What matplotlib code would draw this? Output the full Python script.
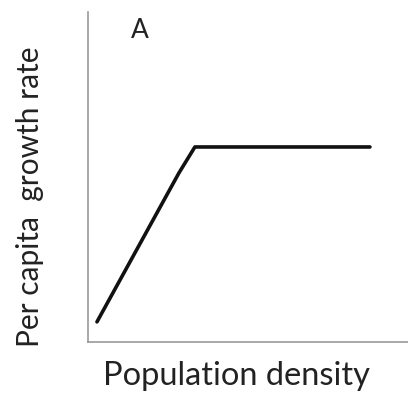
import matplotlib.pyplot as plt

# population density vs per capita growth rate (arbitrary units)
density = [0.28, 2.84, 3.34, 8.81]
growth = [0.61, 5.12, 5.91, 5.91]

plt.rcParams['font.family'] = ['Lato', 'DejaVu Sans']

fig = plt.figure(figsize=(4.08, 3.98), dpi=100)
ax = fig.add_axes([88 / 408, 56 / 398, 320 / 408, 330 / 398])
ax.plot(density, growth, '-', color='#111111', linewidth=2.6, solid_capstyle='round')
ax.set_xlim(0, 10)
ax.set_ylim(0, 10)
ax.set_xticks([])
ax.set_yticks([])
for s in ['top', 'right']:
    ax.spines[s].set_visible(False)
for s in ['left', 'bottom']:
    ax.spines[s].set_color('#9a9a9a')
    ax.spines[s].set_linewidth(1.2)

fig.text(140 / 408, 1 - 30 / 398, 'A', fontsize=19, color='#222222', ha='center', va='center')
fig.text(30 / 408, 1 - 197 / 398, 'Per capita  growth rate', fontsize=21.5, color='#222222',
         rotation=90, ha='center', va='center')
fig.text(236 / 408, 1 - 376 / 398, 'Population density', fontsize=23.5, color='#222222',
         ha='center', va='center')

fig.savefig('out.png', dpi=100)
